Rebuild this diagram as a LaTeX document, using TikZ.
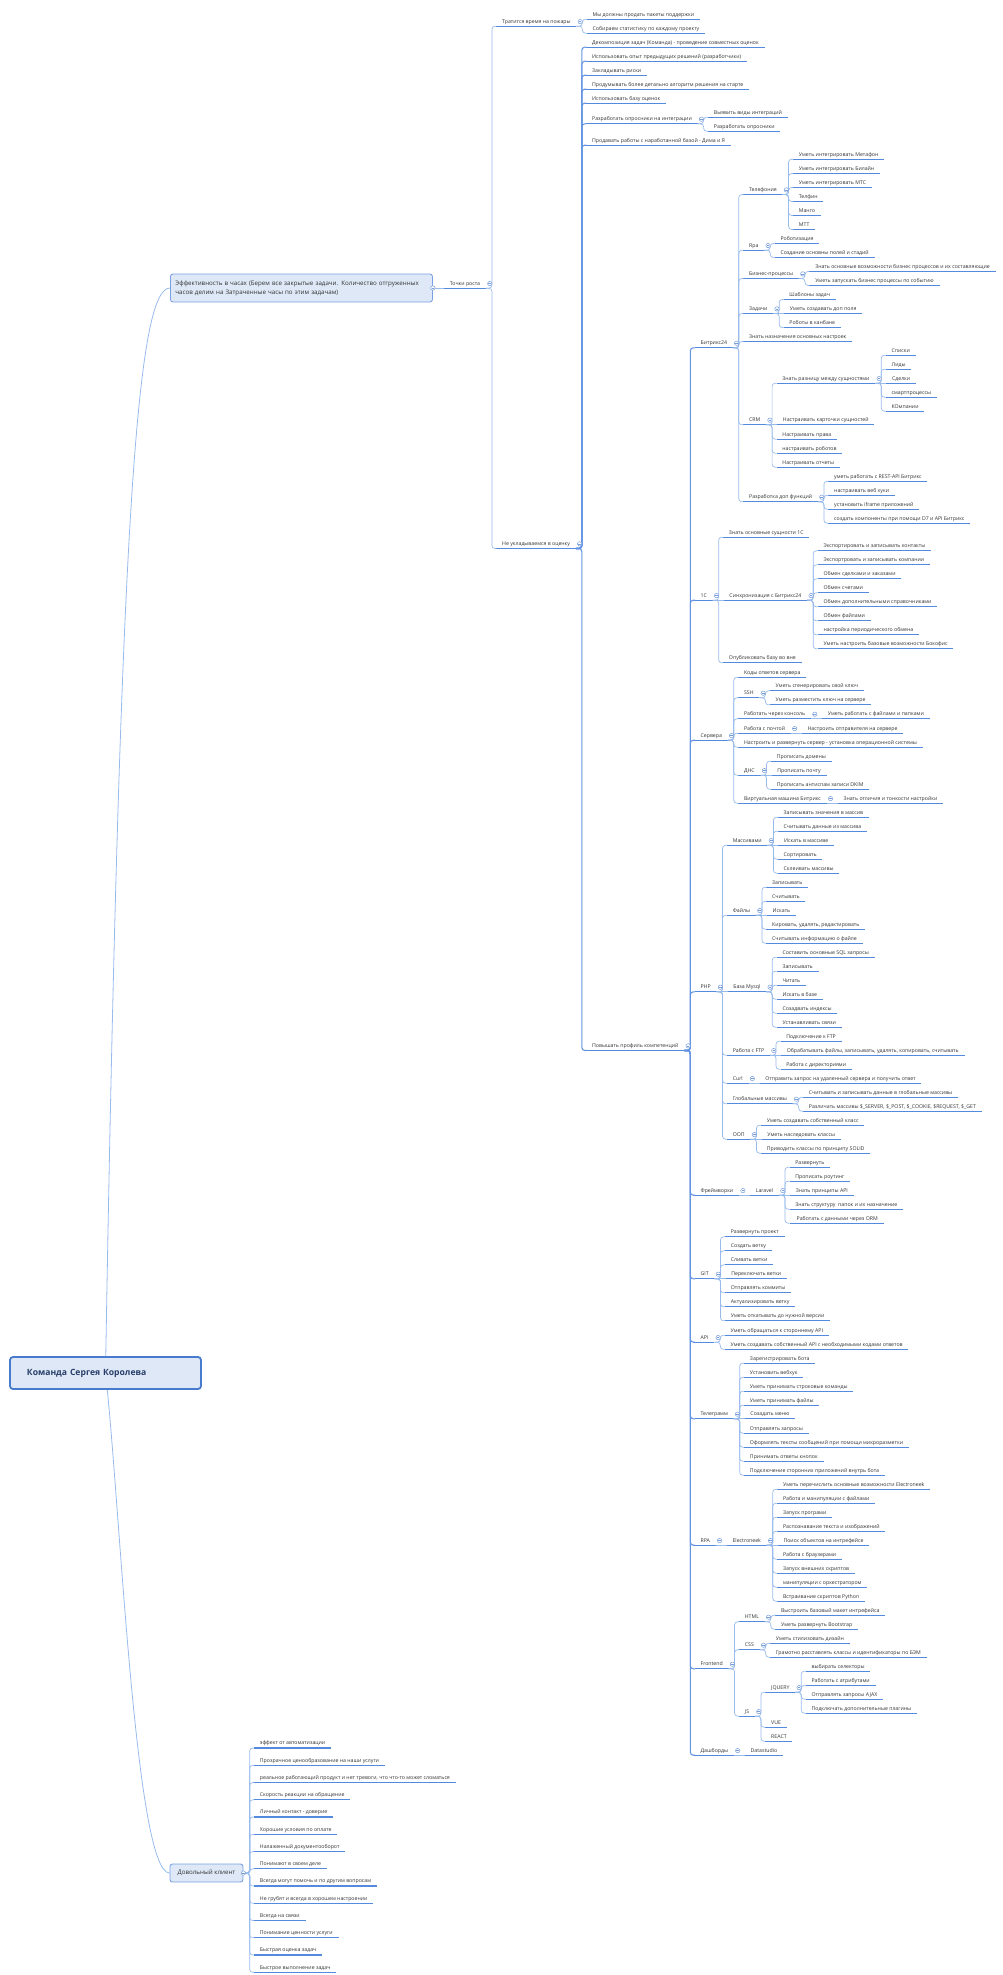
\documentclass[tikz,border=0pt]{standalone}
\usepackage{fontspec}
\setmainfont{Open Sans}
\usetikzlibrary{calc}
\pgfdeclarelayer{bg}
\pgfsetlayers{bg,main}
\definecolor{txt}{HTML}{333333}
\definecolor{ul}{RGB}{84,138,222}
\definecolor{cn}{RGB}{152,187,236}
\definecolor{cnB}{RGB}{100,148,226}
\definecolor{tg}{RGB}{120,158,218}
\definecolor{boxfill}{RGB}{222,232,246}
\definecolor{boxdraw}{RGB}{122,162,226}
\definecolor{rootdraw}{RGB}{72,122,206}
\newcommand\fs{\fontsize{5.2}{6.2}\selectfont}
\tikzset{
  leaf/.style={anchor=south west, inner xsep=5.6pt, inner ysep=1.6pt,
    text height=4.2pt, text depth=1.3pt, font=\fs, text=txt,
    append after command={(\tikzlastnode.south west) edge[uline] (\tikzlastnode.south east)}},
  uline/.style={draw=ul, line width=1.3pt},
  conn/.style={draw=cn, line width=0.7pt, rounded corners=3pt},
  connB/.style={draw=cnB, line width=1.1pt, rounded corners=3pt},
  rootc/.style={draw=cn, line width=0.8pt},
  tog/.style={circle, draw=tg, line width=0.5pt, fill=white, minimum size=4.4pt, inner sep=0pt,
    path picture={\draw[tg, line width=0.5pt] ([xshift=-1.3pt]path picture bounding box.center) -- ([xshift=1.3pt]path picture bounding box.center);}},
  port/.style={inner sep=0pt, minimum size=0pt},
}
\newcommand\kid[5][conn]{%
  \node[leaf] (#2) at ($(#3.south east |- 0,#4)+(10.5,4.5)$) {#5};
  \draw[#1] (#3.south east) -- ++(6,0) |- (#2.south west);}
\newcommand\skid[4][conn]{%
  \node[leaf] (#2) at ($(#3.south east)+(11,0)$) {#4};
  \draw[#1] (#3.south east) -- (#2.south west);}
\newcommand\tog[1]{\node[tog] (#1-t) at ([xshift=3.8pt,yshift=4.6pt]#1.south east) {};}
\begin{document}
\begin{tikzpicture}[x=1pt,y=-1pt]
\useasboundingbox (0,0) rectangle (1002,1975);
% main boxes
\node[draw=rootdraw, line width=1.8pt, fill=boxfill, rounded corners=3pt,
  minimum width=191pt, minimum height=32pt, text width=157pt, align=left,
  inner xsep=17pt, font=\fontsize{8.6}{10}\selectfont\bfseries, text={rgb,255:red,40;green,62;blue,105}]
  (root) at (105.5,1373) {Команда Сергея Королева};
\node[draw=boxdraw, line width=0.9pt, fill=boxfill, rounded corners=2.5pt, anchor=west,
  minimum width=262pt, minimum height=28pt, text width=252pt, align=left, inner xsep=5pt,
  font=\fontsize{6.2}{9}\selectfont, text=txt]
  (eff) at (170,288) {Эффективность в часах (Берем все закрытые задачи. Количество отгруженных\\часов делим на Затраченные часы по этим задачам)};
\node[draw=boxdraw, line width=0.9pt, fill=boxfill, rounded corners=2.5pt,
  minimum width=73pt, minimum height=18pt, inner xsep=4pt,
  font=\fontsize{6.2}{8}\selectfont, text=txt]
  (dk) at (206.5,1873) {Довольный клиент};
\begin{pgfonlayer}{bg}
\draw[rootc] (root.center) .. controls (120,504) and (138,288) .. (eff.west);
\draw[rootc] (root.center) .. controls (120,1500) and (135,1873) .. (dk.west);
\end{pgfonlayer}
\node[port] (effP) at (eff.east) {};
\node[port] (dkP) at (dk.east) {};
% level: Точки роста
\skid{tr}{effP}{Точки роста}
\kid{tp}{tr}{21.7}{Тратится время на пожары}
\kid{nu}{tr}{544}{Не укладываемся в оценку}
\kid{tp1}{tp}{14.7}{Мы должны продать пакеты поддержки}
\kid{tp2}{tp}{28.7}{Собираем статистику по каждому проекту}
\tog{tp}
\kid[connB]{n1}{nu}{42.7}{Декомпозиция задач (Команда) - проведение совместных оценок}
\kid[connB]{n2}{nu}{56.7}{Использовать опыт предыдущих решений (разработчики)}
\kid[connB]{n3}{nu}{70.7}{Закладывать риски}
\kid[connB]{n4}{nu}{84.7}{Продумывать более детально алгоритм решения на старте}
\kid[connB]{n5}{nu}{98.7}{Использовать базу оценок}
\kid[connB]{n6}{nu}{119.3}{Разработать опросники на интеграции}
\kid[connB]{n7}{nu}{140.7}{Продавать работы с наработанной базой - Дима и Я}
\kid[connB]{n8}{nu}{1046}{Повышать профиль компетенций}
\kid{n61}{n6}{112.7}{Выявить виды интеграций}
\kid{n62}{n6}{126.7}{Разработать опросники}
\tog{n6}
% Повышать профиль компетенций
\kid[connB]{bx}{n8}{343.3}{Битрикс24}
\kid[connB]{c1}{n8}{595.7}{1С}
\kid[connB]{sv}{n8}{735.7}{Сервера}
\kid[connB]{ph}{n8}{987.3}{PHP}
\kid[connB]{fw}{n8}{1190.7}{Фреймворки}
\kid[connB]{gt}{n8}{1274.3}{GIT}
\kid[connB]{ap}{n8}{1337.7}{API}
\kid[connB]{tg}{n8}{1414.3}{Телеграмм}
\kid[connB]{rp}{n8}{1540.7}{RPA}
\kid[connB]{fe}{n8}{1664.3}{Frontend}
\kid[connB]{db}{n8}{1750.7}{Дашборды}
% Битрикс24
\kid{bx1}{bx}{190}{Телефония}
\kid{bx2}{bx}{245.7}{Rpa}
\kid{bx3}{bx}{274}{Бизнес-процессы}
\kid{bx4}{bx}{309}{Задачи}
\kid{bx5}{bx}{337}{Знать назначения основных настроек}
\kid{bx6}{bx}{420.3}{CRM}
\kid{bx7}{bx}{497.3}{Разработка доп функций}
\kid{bx11}{bx1}{154.7}{Уметь интегрировать Метафон}
\kid{bx12}{bx1}{169}{Уметь интегрировать Билайн}
\kid{bx13}{bx1}{183}{Уметь интегрировать МТС}
\kid{bx14}{bx1}{197}{Телфин}
\kid{bx15}{bx1}{211}{Манго}
\kid{bx16}{bx1}{225}{МТТ}
\kid{bx21}{bx2}{239}{Роботизация}
\kid{bx22}{bx2}{253}{Создание основны полей и стадий}
\kid{bx31}{bx3}{267}{Знать основные возможности бизнес процессов и их составляющие}
\kid{bx32}{bx3}{281}{Уметь запускать бизнес процессы по событию}
\kid{bx41}{bx4}{295}{Шаблоны задач}
\skid{bx42}{bx4}{Уметь создавать доп поля}
\kid{bx43}{bx4}{323}{Роботы в канбане}
\kid{bx61}{bx6}{378.7}{Знать разницу между сущностями}
\skid{bx62}{bx6}{Настраивать карточки сущностей}
\kid{bx63}{bx6}{434.7}{Настраивать права}
\kid{bx64}{bx6}{448.7}{настраивать роботов}
\kid{bx65}{bx6}{462.7}{Настраивать отчеты}
\kid{bx611}{bx61}{350.7}{Списки}
\kid{bx612}{bx61}{364.7}{Лиды}
\skid{bx613}{bx61}{Сделки}
\kid{bx614}{bx61}{392.7}{смартпроцессы}
\kid{bx615}{bx61}{406.7}{КОмпании}
\kid{bx71}{bx7}{476.7}{уметь работать с REST-API Битрикс}
\kid{bx72}{bx7}{490.7}{настраивать веб хуки}
\kid{bx73}{bx7}{504.7}{установить iframe приложений}
\kid{bx74}{bx7}{518.7}{создать компоненты при помощи D7 и API Битрикс}
\tog{bx1}\tog{bx2}\tog{bx3}\tog{bx4}\tog{bx6}\tog{bx61}\tog{bx7}\tog{bx}
% 1С
\kid{c11}{c1}{532.7}{Знать основные сущности 1С}
\skid{c12}{c1}{Синхронизация с Битрикс24}
\kid{c13}{c1}{658.3}{Опубликовать базу во вне}
\kid{c121}{c12}{546.3}{Экспортировать и записывать контакты}
\kid{c122}{c12}{560.3}{Экспортровать и записывать компании}
\kid{c123}{c12}{574.3}{Обмен сделками и заказами}
\kid{c124}{c12}{588.3}{Обмен счетами}
\kid{c125}{c12}{602.3}{Обмен дополнительными справочниками}
\kid{c126}{c12}{616.3}{Обмен файлами}
\kid{c127}{c12}{630.3}{настройка периодического обмена}
\kid{c128}{c12}{644.3}{Уметь настроить базовые возможности Бокофис}
\tog{c1}\tog{c12}
% Сервера
\kid{sv1}{sv}{672.7}{Коды ответов сервера}
\kid{sv2}{sv}{693.3}{SSH}
\kid{sv3}{sv}{714.3}{Работать через консоль}
\kid{sv4}{sv}{728.7}{Работа с почтой}
\kid{sv5}{sv}{742.7}{Настроить и развернуть сервер - установка операционной системы}
\kid{sv6}{sv}{770.7}{ДНС}
\kid{sv7}{sv}{798.7}{Виртуальная машина Битрикс}
\kid{sv21}{sv2}{686.3}{Уметь сгенерировать свой ключ}
\kid{sv22}{sv2}{700.3}{Уметь разместить ключ на сервере}
\skid{sv31}{sv3}{Уметь работать с файлами и папками}
\skid{sv41}{sv4}{Настроить отправителя на сервере}
\kid{sv61}{sv6}{756.7}{Прописать домены}
\skid{sv62}{sv6}{Прописать почту}
\kid{sv63}{sv6}{784.7}{Прописать антиспам записи DKIM}
\skid{sv71}{sv7}{Знать отличия и тонкости настройки}
\tog{sv}\tog{sv2}\tog{sv3}\tog{sv4}\tog{sv6}\tog{sv7}
% PHP
\kid{ph1}{ph}{840.7}{Массивами}
\kid{ph2}{ph}{910.7}{Файлы}
\skid{ph3}{ph}{База Mysql}
\kid{ph4}{ph}{1050.7}{Работа с FTP}
\kid{ph5}{ph}{1078.7}{Curl}
\kid{ph6}{ph}{1099.3}{Глобальные массивы}
\kid{ph7}{ph}{1134.7}{ООП}
\kid{ph11}{ph1}{812.7}{Записывать значения в массив}
\kid{ph12}{ph1}{826.7}{Считывать данные из массива}
\skid{ph13}{ph1}{Искать в массиве}
\kid{ph14}{ph1}{854.7}{Сортировать}
\kid{ph15}{ph1}{868.7}{Склеивать массивы}
\kid{ph21}{ph2}{882.7}{Записывать}
\kid{ph22}{ph2}{896.7}{Считывать}
\skid{ph23}{ph2}{Искать}
\kid{ph24}{ph2}{924.7}{Кировать, удалять, редактировать}
\kid{ph25}{ph2}{938.7}{Считывать информацию о файле}
\kid{ph31}{ph3}{952.7}{Составить основные SQL запросы}
\kid{ph32}{ph3}{966.7}{Записывать}
\kid{ph33}{ph3}{980.7}{Читать}
\kid{ph34}{ph3}{994.7}{Искать в базе}
\kid{ph35}{ph3}{1008.7}{Созадвать индексы}
\kid{ph36}{ph3}{1022.7}{Устанавливать связи}
\kid{ph41}{ph4}{1036.7}{Подключение к FTP}
\skid{ph42}{ph4}{Обрабатывать файлы, записывать, удалять, копировать, считывать}
\kid{ph43}{ph4}{1064.7}{Работа с директориями}
\skid{ph51}{ph5}{Отправить запрос на удаленный сервера и получить ответ}
\kid{ph61}{ph6}{1092.7}{Считывать и записывать данные в глобальные массивы}
\kid{ph62}{ph6}{1106.7}{Различать массивы \$\_SERVER, \$\_POST, \$\_COOKIE, \$REQUEST, \$\_GET}
\kid{ph71}{ph7}{1120.7}{Уметь создавать собственный класс}
\skid{ph72}{ph7}{Уметь наследовать классы}
\kid{ph73}{ph7}{1148.7}{Приводить классы по принципу SOLID}
\tog{ph}\tog{ph1}\tog{ph2}\tog{ph3}\tog{ph4}\tog{ph5}\tog{ph6}\tog{ph7}
% Фреймворки
\skid{fw1}{fw}{Laravel}
\kid{fw11}{fw1}{1162.7}{Развернуть}
\kid{fw12}{fw1}{1176.7}{Прописать роутинг}
\skid{fw13}{fw1}{Знать принципы API}
\kid{fw14}{fw1}{1204.7}{Знать структуру\ \ папок и их назначение}
\kid{fw15}{fw1}{1218.7}{\ Работать с данными через ORM}
\tog{fw}\tog{fw1}
% GIT
\kid{gt1}{gt}{1232.3}{Развернуть проект}
\kid{gt2}{gt}{1246.3}{Создать ветку}
\kid{gt3}{gt}{1260.3}{Сливать ветки}
\skid{gt4}{gt}{Переключать ветки}
\kid{gt5}{gt}{1288.3}{Отправлять коммиты}
\kid{gt6}{gt}{1302.3}{Актуализировать ветку}
\kid{gt7}{gt}{1316.3}{Уметь откатывать до нужной версии}
\tog{gt}
% API
\kid{ap1}{ap}{1330.7}{Уметь обращаться к стороннему API}
\kid{ap2}{ap}{1344.7}{Уметь создавать собственный API с необходимыми кодами ответов}
\tog{ap}
% Телеграмм
\kid{tg1}{tg}{1358.7}{Зарегистрировать бота}
\kid{tg2}{tg}{1372.7}{Установить вебхук}
\kid{tg3}{tg}{1386.7}{Уметь принимать строковые команды}
\kid{tg4}{tg}{1400.7}{Уметь принимать файлы}
\skid{tg5}{tg}{Созадать меню}
\kid{tg6}{tg}{1428.7}{Отправлять запросы}
\kid{tg7}{tg}{1442.7}{Оформлять тексты сообщений при помощи микроразметки}
\kid{tg8}{tg}{1456.7}{Принимать ответы кнопок}
\kid{tg9}{tg}{1470.7}{Подключение сторонних приложений внутрь бота}
\tog{tg}
% RPA
\skid{rp1}{rp}{Electroneek}
\kid{rp11}{rp1}{1484.7}{Уметь перечислить основные возможности Electroneek}
\kid{rp12}{rp1}{1498.7}{Работа и манипуляции с файлами}
\kid{rp13}{rp1}{1512.7}{Запуск програми}
\kid{rp14}{rp1}{1526.7}{Распознавание текста и изображений}
\skid{rp15}{rp1}{Поиск объектов на интрефейсе}
\kid{rp16}{rp1}{1554.7}{Работа с браузерами}
\kid{rp17}{rp1}{1568.7}{Запуск внешних скриптов}
\kid{rp18}{rp1}{1582.7}{манипуляции с оркестратором}
\kid{rp19}{rp1}{1596.7}{Встраивание скриптов Python}
\tog{rp}\tog{rp1}
% Frontend
\kid{fe1}{fe}{1617.3}{HTML}
\kid{fe2}{fe}{1645.3}{CSS}
\kid{fe3}{fe}{1711.7}{JS}
\kid{fe11}{fe1}{1610.7}{Выстроить базовый макет интрефейса}
\kid{fe12}{fe1}{1624.7}{Уметь развернуть Bootstrap}
\kid{fe21}{fe2}{1638.7}{Уметь стилизовать дизайн}
\kid{fe22}{fe2}{1652.7}{Грамотно расставлять классы и идентификаторы по БЭМ}
\kid{fe31}{fe3}{1687.7}{JQUERY}
\kid{fe32}{fe3}{1722.7}{VUE}
\kid{fe33}{fe3}{1736.7}{REACT}
\kid{fe311}{fe31}{1666.7}{выбирать селекторы}
\kid{fe312}{fe31}{1680.7}{Работать с атрибутами}
\kid{fe313}{fe31}{1694.7}{Отправлять запросы AJAX}
\kid{fe314}{fe31}{1708.7}{Подключать дополнительные плагины}
\tog{fe}\tog{fe1}\tog{fe2}\tog{fe3}\tog{fe31}
% Дашборды
\skid{db1}{db}{Datastudio}
\tog{db}
\tog{n8}\tog{nu}\tog{tr}
% Довольный клиент
\kid{dk1}{dkP}{1743.5}{эффект от автоматизации}
\kid{dk2}{dkP}{1760.8}{Прозрачное ценообразование на наши услуги}
\kid{dk3}{dkP}{1778}{реальное работающий продукт и нет тревоги, что что-то может сломаться}
\kid{dk4}{dkP}{1795.3}{Скорость реакции на обращение}
\kid{dk5}{dkP}{1812.5}{Личный контакт - доверие}
\kid{dk6}{dkP}{1829.8}{Хорошие условия по оплате}
\kid{dk7}{dkP}{1847}{Налаженный документооборот}
\kid{dk8}{dkP}{1864.3}{Понимают в своем деле}
\kid{dk9}{dkP}{1881.5}{Всегда могут помочь и по другим вопросам}
\kid{dk10}{dkP}{1898.8}{Не грубят и всегда в хорошем настроении}
\kid{dk11}{dkP}{1916}{Всегда на связи}
\kid{dk12}{dkP}{1933.3}{Понимание ценности услуги}
\kid{dk13}{dkP}{1950.5}{Быстрая оценка задач}
\kid{dk14}{dkP}{1967.8}{Быстрое выполнение задач}
\node[tog] (eff-t) at (eff.east) {};
\node[tog] (dk-t) at (dk.east) {};
\end{tikzpicture}
\end{document}
